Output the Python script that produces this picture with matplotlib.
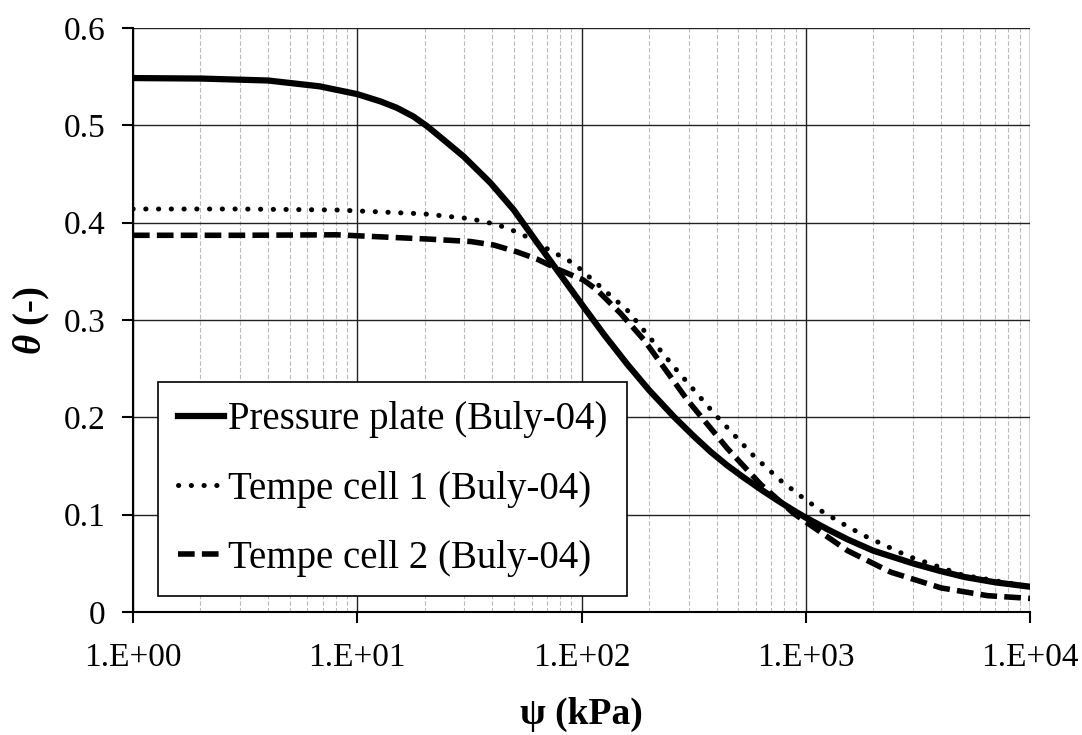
import matplotlib
matplotlib.use("Agg")
import matplotlib.pyplot as plt
from matplotlib.ticker import LogLocator, FixedLocator, NullFormatter

plt.rcParams['font.family'] = ['Liberation Serif', 'DejaVu Serif']
plt.rcParams['mathtext.fontset'] = 'custom'
plt.rcParams['mathtext.it'] = 'Liberation Serif:bold:italic'
plt.rcParams['mathtext.rm'] = 'Liberation Serif:bold'

psi_pp = [1, 2, 4, 6.8, 10, 12.7, 15, 17.8, 20.5, 24.3, 29.8, 39.2, 49.9, 59.2, 77.9,
          100.7, 126, 160, 200, 258, 317, 377, 447, 530, 630, 750, 887, 1000, 1250, 1540,
          2000, 3050, 4000, 5100, 7000, 10000]
theta_pp = [0.5485, 0.548, 0.546, 0.540, 0.532, 0.5245, 0.518, 0.509, 0.499, 0.485, 0.468,
            0.441, 0.413, 0.389, 0.351, 0.3155, 0.285, 0.2545, 0.228, 0.2007, 0.1805, 0.1645,
            0.1505, 0.138, 0.126, 0.1145, 0.104, 0.097, 0.085, 0.0745, 0.063, 0.0495, 0.042,
            0.036, 0.0305, 0.026]

psi_t1 = [1, 3, 8.1, 19.8, 32, 42, 53.4, 68, 92.5, 121.6, 160, 258, 390, 588, 773, 950,
          1170, 1480, 1820, 2850, 5000, 10000]
theta_t1 = [0.414, 0.414, 0.413, 0.409, 0.404, 0.398, 0.389, 0.375, 0.358, 0.334, 0.310,
            0.252, 0.204, 0.160, 0.135, 0.119, 0.104, 0.090, 0.0785, 0.0575, 0.038, 0.026]

psi_t2 = [1, 3, 8.1, 21.2, 32, 40.6, 51.5, 63.4, 80.5, 102, 117, 149, 190, 296, 447, 630,
          887, 1053, 1536, 2390, 4010, 6470, 10000]
theta_t2 = [0.387, 0.387, 0.3875, 0.383, 0.3806, 0.377, 0.370, 0.3625, 0.351, 0.341, 0.331,
            0.307, 0.2795, 0.218, 0.168, 0.131, 0.101, 0.089, 0.063, 0.041, 0.0248, 0.0168,
            0.014]

labels = ["Pressure plate (Buly-04)", "Tempe cell 1 (Buly-04)", "Tempe cell 2 (Buly-04)"]
xticklabels = ["1.E+00", "1.E+01", "1.E+02", "1.E+03", "1.E+04"]

fig = plt.figure(figsize=(10.82, 7.35), dpi=100)
ax = fig.add_axes([0.1229, 0.1673, 0.952 - 0.1229, 0.962 - 0.1673])

ax.plot(psi_pp, theta_pp, color='black', lw=4.5, ls='-', solid_joinstyle='round',
        label=labels[0])
ax.plot(psi_t1, theta_t1, color='black', lw=3.6, ls=(0, (0.05, 2.5)), dash_capstyle='round',
        label=labels[1])
ax.plot(psi_t2, theta_t2, color='black', lw=4, ls=(0, (3.0, 1.3)), label=labels[2])

ax.set_xscale('log')
ax.set_xlim(1, 1e4)
ax.set_ylim(0, 0.6)
ax.xaxis.set_major_locator(FixedLocator([1, 10, 100, 1000, 10000]))
ax.set_xticklabels(xticklabels)
ax.xaxis.set_minor_locator(LogLocator(base=10, subs=range(2, 10)))
ax.xaxis.set_minor_formatter(NullFormatter())
ax.set_yticks([0, 0.1, 0.2, 0.3, 0.4, 0.5, 0.6])
ax.set_yticklabels(["0", "0.1", "0.2", "0.3", "0.4", "0.5", "0.6"])

ax.grid(which='major', color='#222222', lw=1.0)
ax.grid(which='minor', axis='x', color='#bbbbbb', lw=0.8, ls=(0, (4, 2)))
ax.set_axisbelow(True)

for s in ['top', 'right']:
    ax.spines[s].set_visible(False)
for s in ['left', 'bottom']:
    ax.spines[s].set_linewidth(1.5)

ax.tick_params(axis='both', which='major', labelsize=24, direction='out', length=8, width=1.5)
ax.tick_params(axis='x', which='minor', length=0)
ax.tick_params(axis='x', pad=14)
ax.tick_params(axis='y', pad=12)

ax.set_xlabel("ψ (kPa)", fontsize=27, fontweight='bold', labelpad=17)
ax.set_ylabel(r"$\theta$ (-)", fontsize=28, fontweight='bold', labelpad=8)

leg = ax.legend(loc='lower left', bbox_to_anchor=(0.028, 0.027), fontsize=28, frameon=True,
                fancybox=False, edgecolor='black', handlelength=1.2, handletextpad=0.1,
                borderpad=0.5, labelspacing=0.83, borderaxespad=0, framealpha=1)
leg.get_frame().set_linewidth(1.2)

fig.savefig("out.png", dpi=100)
